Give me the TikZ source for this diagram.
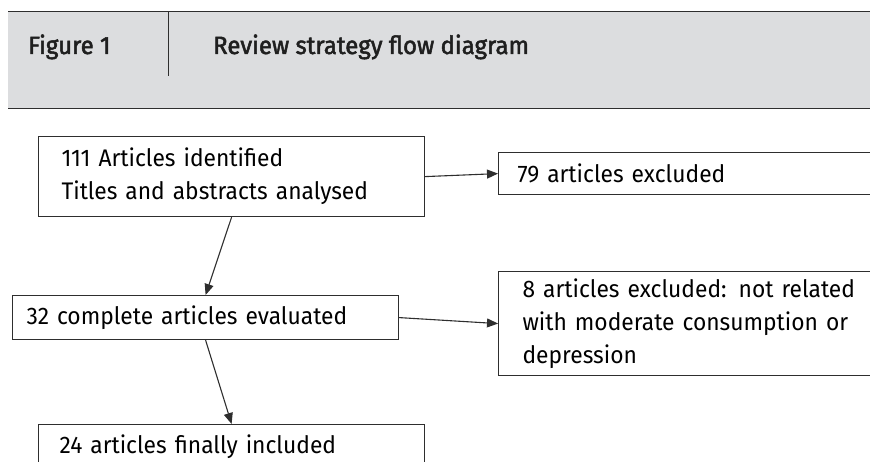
\documentclass[tikz,border=0pt]{standalone}
\usepackage{fontspec}
\setmainfont{Fira Sans}[FakeStretch=0.95]
\newfontfamily\headfont{Fira Sans}[FakeStretch=0.96, FakeBold=2]
\usetikzlibrary{arrows.meta,positioning}

\definecolor{bandgray}{HTML}{DCDDDF}
\definecolor{inkgray}{HTML}{2E2E2E}

\tikzset{
  flowbox/.style={draw=inkgray, line width=1.2pt, anchor=north west,
    inner ysep=0pt, align=left, font=\fontsize{24}{33}\selectfont},
  flowarrow/.style={draw=inkgray, line width=1.1pt,
    -{Triangle[length=11pt,width=9pt]}},
  headtext/.style={anchor=base west, inner sep=0pt, text=black!88,
    font=\headfont\fontsize{25}{30}\selectfont}
}

\begin{document}
\begin{tikzpicture}[x=1pt,y=-1pt]
\useasboundingbox (0,0) rectangle (870,462);
\clip (0,0) rectangle (870,462);

% title band
\fill[bandgray] (8,12) rectangle (870,109);
\draw[inkgray, line width=1pt] (8,12) -- (870,12);
\draw[inkgray, line width=1pt] (8,109) -- (870,109);
\draw[inkgray, line width=1pt] (168,12) -- (168,76);
\node[headtext] (fig) at (28,54) {Figure 1};
\node[headtext] (title) at (213,54) {Review strategy flow diagram};

% boxes
\node[flowbox, minimum width=386pt, minimum height=80pt, inner xsep=23pt,
  text width=340pt] (ident) at (38,136)
  {111 Articles identified\\Titles and abstracts analysed};
\node[flowbox, minimum width=386pt, minimum height=44pt, inner xsep=14pt,
  text width=358pt] (eval) at (12,295) {32 complete articles evaluated};
\node[flowbox, minimum width=386pt, minimum height=44pt, inner xsep=21pt,
  text width=344pt] (incl) at (38,424) {24 articles finally included};
\node[flowbox, minimum width=402pt, minimum height=42pt, inner xsep=19pt,
  text width=364pt] (excl) at (498,152) {79 articles excluded};
\node[flowbox, minimum width=402pt, minimum height=104pt, inner xsep=24pt,
  text width=354pt] (excltwo) at (498,271)
  {8 articles excluded: not related\\with moderate consumption or\\depression};

% connectors
\draw[flowarrow] (ident.south) -- (eval.north);
\draw[flowarrow] (eval.south) -- (incl.north);
\draw[flowarrow] (ident.east) -- (excl.west);
\draw[flowarrow] (eval.east) -- (excltwo.west);
\end{tikzpicture}
\end{document}
